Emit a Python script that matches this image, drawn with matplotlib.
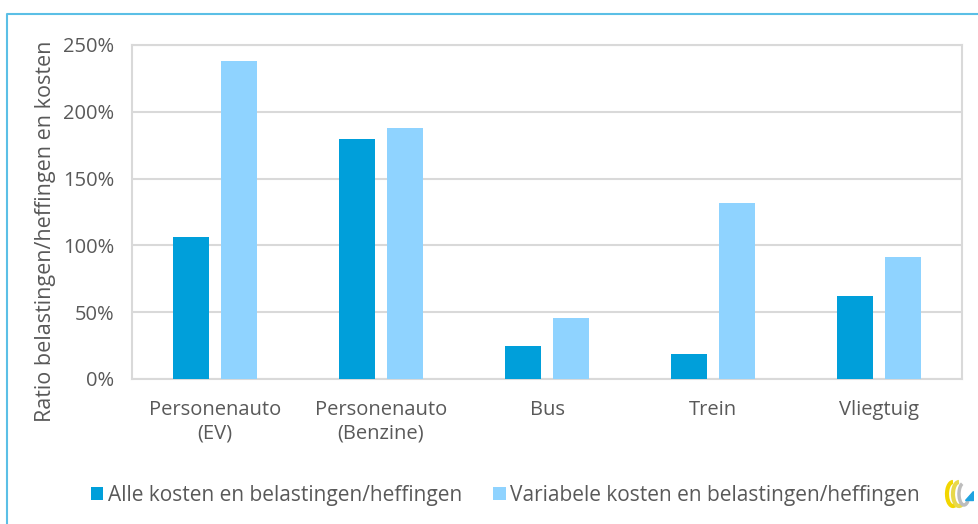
import numpy as np
import matplotlib
matplotlib.use("Agg")
import matplotlib.pyplot as plt
from matplotlib.lines import Line2D
from matplotlib.patches import Patch, Arc, Polygon

# ---------------------------------------------------------------------------
# Data
# ---------------------------------------------------------------------------
categories = ["Personenauto\n(EV)", "Personenauto\n(Benzine)", "Bus", "Trein", "Vliegtuig"]
alle_kosten = [106, 180, 25, 19, 62]
variabele_kosten = [238, 188, 46, 132, 91]
y_ticks = [0, 50, 100, 150, 200, 250]
series_labels = ["Alle kosten en belastingen/heffingen",
                 "Variabele kosten en belastingen/heffingen"]

DARK = "#009FDA"
LIGHT = "#8FD3FF"
TEXT = "#595959"
GRID = "#D9D9D9"
FRAME = "#5BBFE6"
FS = 14.5

plt.rcParams["font.family"] = ["Open Sans", "DejaVu Sans"]

fig = plt.figure(figsize=(9.79, 5.24), dpi=100)
ax = fig.add_axes([132 / 979, 1 - 379 / 524, 830 / 979, 334 / 524])

x = np.arange(len(categories))
w = 0.22
gap = 0.067
ax.bar(x - (w + gap) / 2, alle_kosten, w, color=DARK, zorder=3)
ax.bar(x + (w + gap) / 2, variabele_kosten, w, color=LIGHT, zorder=3)

ax.set_xlim(-0.5, len(categories) - 0.5)
ax.set_ylim(0, 250)
ax.set_yticks(y_ticks)
ax.set_yticklabels([f"{t}%" for t in y_ticks])
ax.set_xticks(x)
ax.set_xticklabels(categories, linespacing=1.25)
ax.tick_params(length=0, colors=TEXT, labelsize=FS)
ax.tick_params(axis="x", pad=15)
ax.tick_params(axis="y", pad=13)
ax.yaxis.grid(True, color=GRID, linewidth=1.5, zorder=0)
for spine in ax.spines.values():
    spine.set_color(GRID)
    spine.set_linewidth(1.5)

ax.set_ylabel("Ratio belastingen/heffingen en kosten", color=TEXT, fontsize=15.5)
ax.yaxis.set_label_coords(-(132 - 56) / 830, (379 - 231) / 334)

handles = [Patch(facecolor=DARK, edgecolor="none"), Patch(facecolor=LIGHT, edgecolor="none")]
fig.legend(handles, series_labels, loc="center left", bbox_to_anchor=(91 / 979, 1 - 495 / 524),
           ncol=2, frameon=False, fontsize=15, labelcolor=TEXT,
           handlelength=0.6, handleheight=0.6, handletextpad=0.2, columnspacing=1.5,
           borderpad=0, borderaxespad=0)

# outer frame (top and left edges)
fig.add_artist(Line2D([7 / 979, 7 / 979, 1.0], [0.0, 1 - 14 / 524, 1 - 14 / 524],
                      transform=fig.transFigure, color=FRAME, linewidth=1.5))

# small logo, bottom right
lax = fig.add_axes([942 / 979, 1 - 510 / 524, 32 / 979, 32 / 524])
lax.set_xlim(0, 32)
lax.set_ylim(0, 32)
lax.axis("off")
lax.add_patch(Arc((11, 16), 12, 24, theta1=90, theta2=280, color="#F2D600", linewidth=3))
lax.add_patch(Arc((17, 16), 12, 24, theta1=90, theta2=290, color="#E8D84A", linewidth=3))
lax.add_patch(Arc((22, 16), 10, 22, theta1=100, theta2=300, color="#BDBDBD", linewidth=2.5))
lax.add_patch(Polygon([[23, 10], [31, 10], [31, 19]], closed=True, color="#1FA3E0"))

fig.savefig("out.png", dpi=100)
